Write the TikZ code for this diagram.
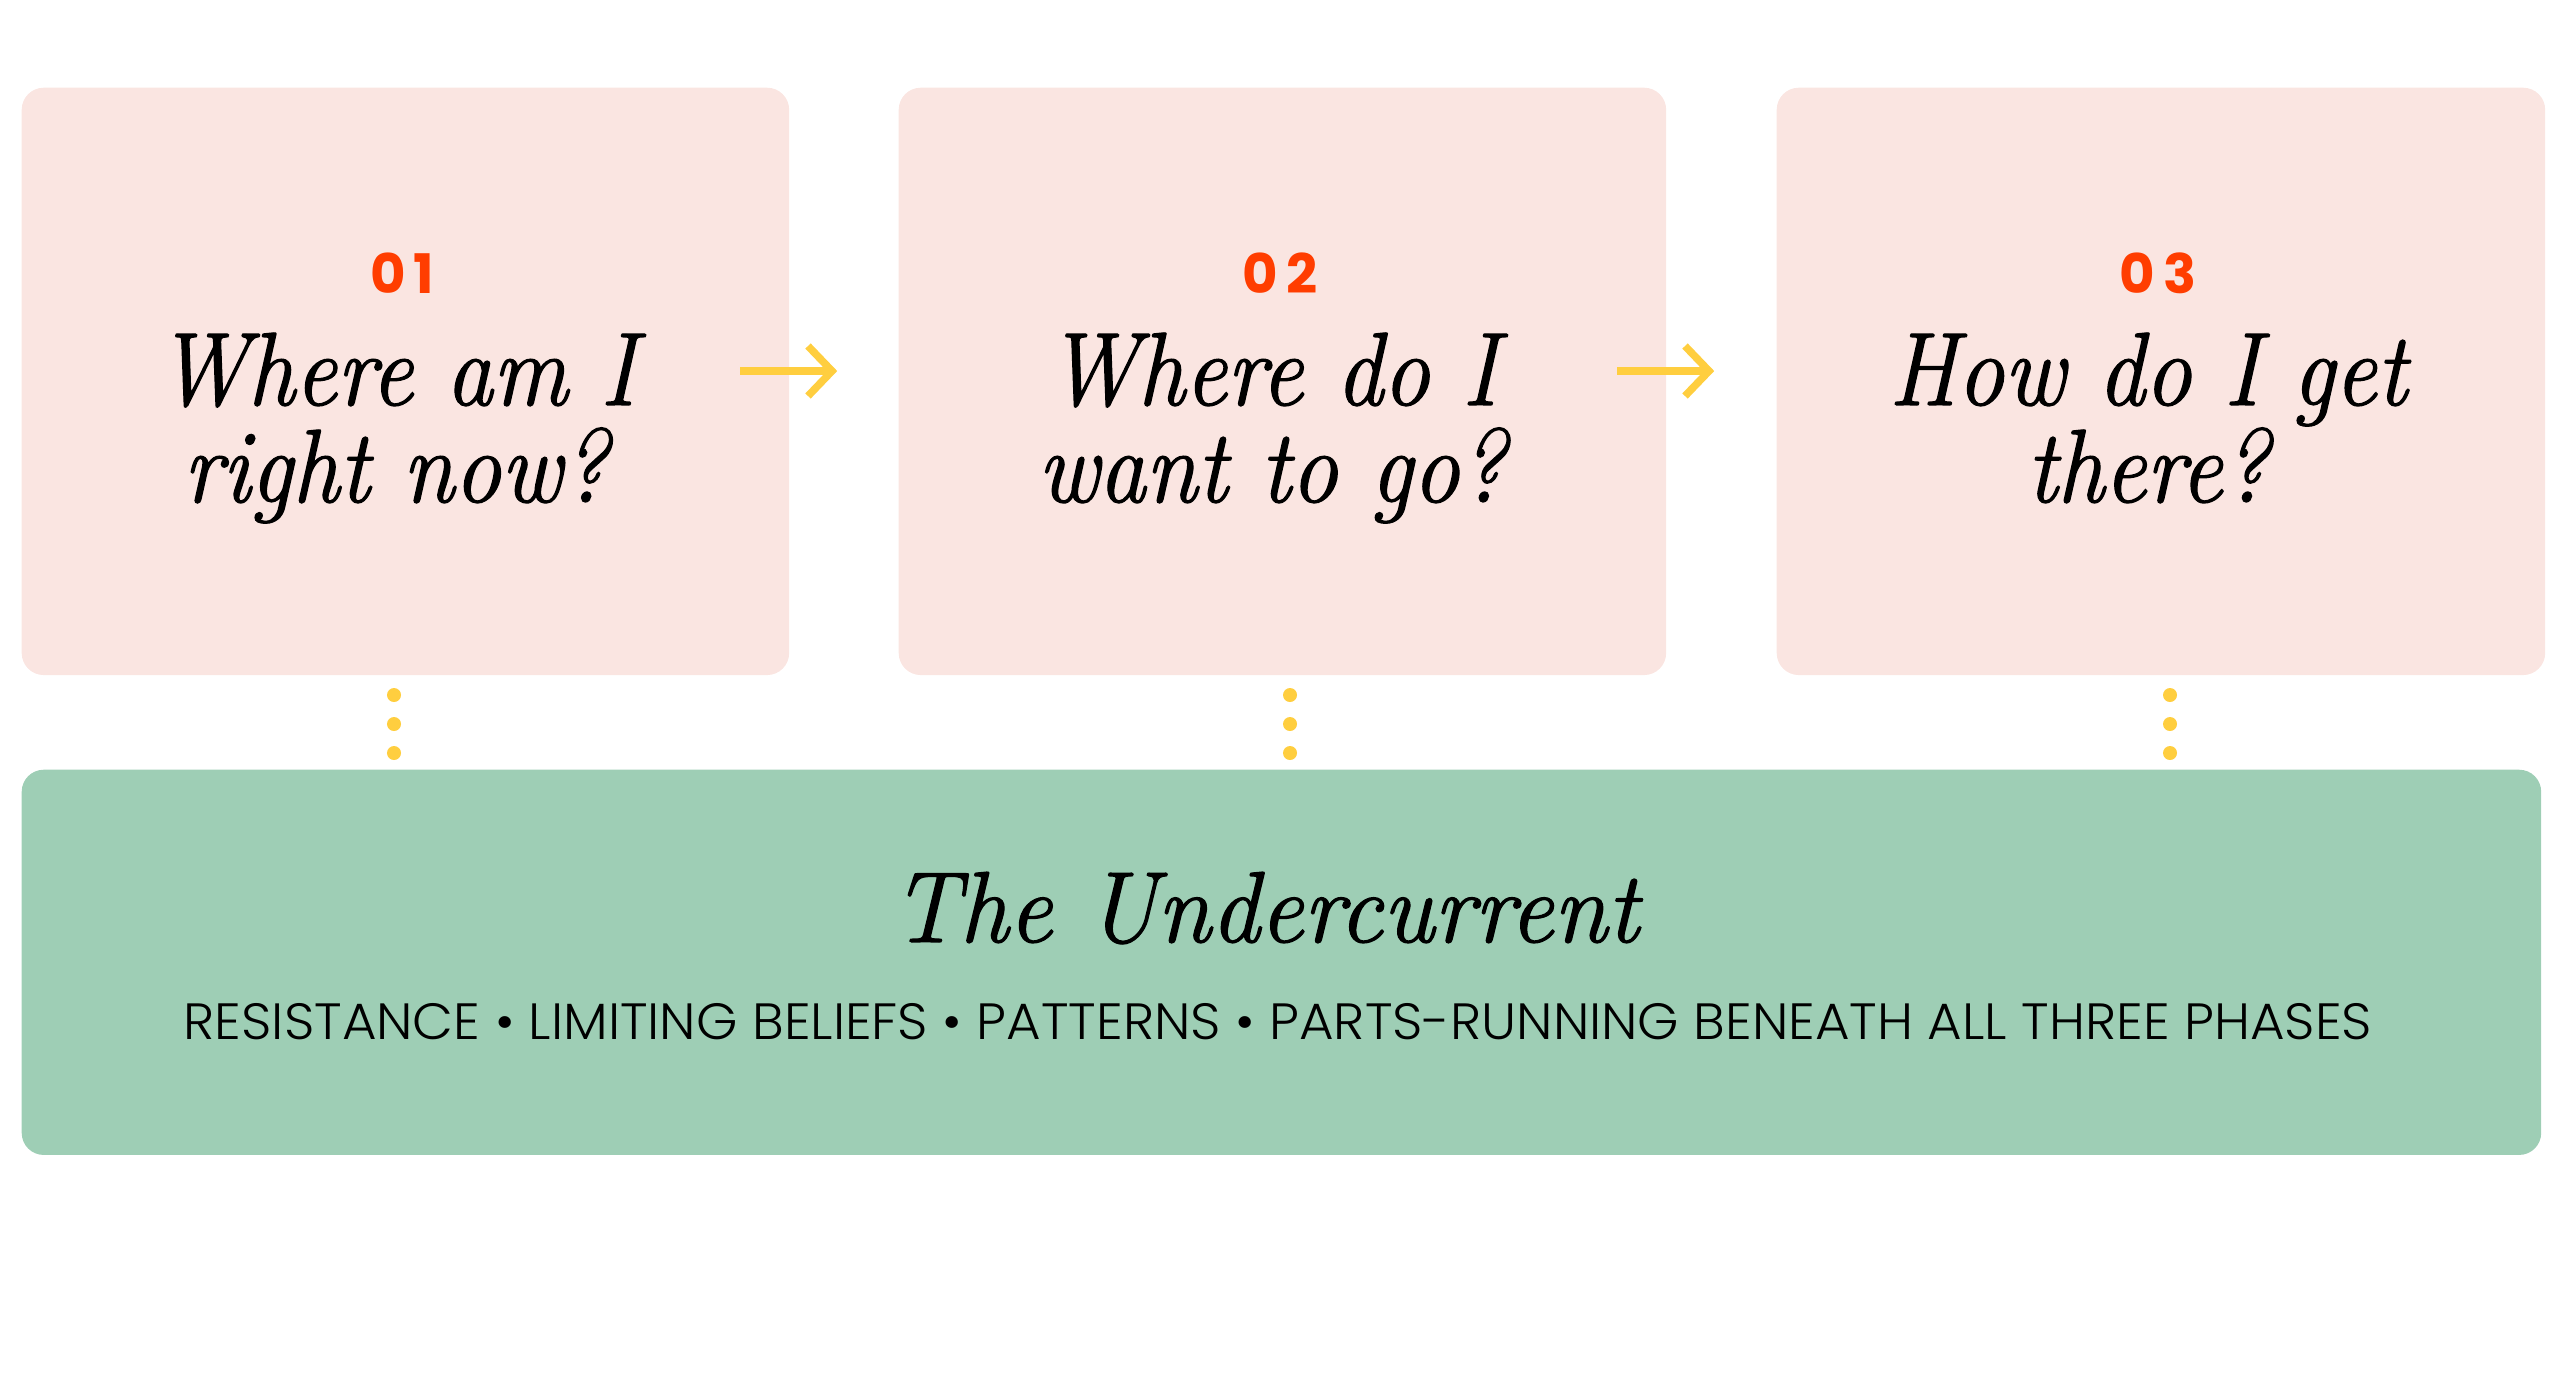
\documentclass[tikz,border=0pt]{standalone}
\usepackage{fontspec}
\newfontfamily\numfont[LetterSpace=14]{Poppins}
\IfFontExistsTF{Poppins Light}{\newfontfamily\capfont[FakeStretch=1.04]{Poppins Light}}{\newfontfamily\capfont[FakeStretch=1.04]{Poppins}}
\newfontfamily\ttlfont[FakeStretch=0.90, FakeBold=1.2]{Latin Modern Roman}
\newfontfamily\bigfont[FakeStretch=0.966, FakeBold=1.2]{Latin Modern Roman}
\definecolor{pinkbg}{HTML}{FAE5E1}
\definecolor{greenbg}{HTML}{9ECEB5}
\definecolor{sun}{HTML}{FFCE3F}
\definecolor{flame}{HTML}{FF3D00}
\tikzset{
  phasebox/.style={fill=pinkbg, draw=none, rounded corners=0.22cm, inner sep=0pt, anchor=north west, minimum width=7.67cm, minimum height=5.87cm},
  basebox/.style={fill=greenbg, draw=none, rounded corners=0.22cm, inner sep=0pt, anchor=north west, minimum width=25.18cm, minimum height=3.85cm},
  num/.style={anchor=base, inner sep=0pt, text=flame, font=\numfont\bfseries\fontsize{15.5}{16}\selectfont},
  ttl/.style={anchor=base, inner sep=0pt, text=black, font=\ttlfont\itshape\fontsize{29.6}{30}\selectfont},
  bigttl/.style={anchor=base, inner sep=0pt, text=black, font=\bigfont\itshape\fontsize{28.7}{30}\selectfont},
  sub/.style={anchor=base, inner sep=0pt, text=black, font=\capfont\fontsize{14.5}{16}\selectfont},
  flow/.style={draw=sun, line width=0.075cm, miter limit=10},
  dot/.style={fill=sun}
}
\begin{document}
\begin{tikzpicture}[x=0.01cm, y=-0.01cm]
\useasboundingbox (0,0) rectangle (2560,1396);
% boxes
\node[phasebox] (b1) at (21,87) {};
\node[phasebox] (b2) at (898,87) {};
\node[phasebox, minimum width=7.68cm] (b3) at (1776,87) {};
\node[basebox] (g) at (21,769) {};
% numbers
\node[num] (n1) at (402,293) {01};
\node[num] (n2) at (1280,293) {02};
\node[num] (n3) at (2158,293) {03};
% titles
\node[ttl] (t1a) at (396,405) {Where am I};
\node[ttl] (t1b) at (396,502) {right now?};
\node[ttl] (t2a) at (1272,405) {Where do I};
\node[ttl] (t2b) at (1272,502) {want to go?};
\node[ttl] (t3a) at (2148,405) {How do I get};
\node[ttl] (t3b) at (2148,502) {there?};
% arrows
\coordinate (a1s) at (740,371);
\coordinate (a1e) at (832,371);
\coordinate (a2s) at (1617,371);
\coordinate (a2e) at (1709,371);
\draw[flow] (a1s) -- (a1e);
\draw[flow] ([shift={(-24,-25)}]a1e) -- (a1e) -- ([shift={(-24,25)}]a1e);
\draw[flow] (a2s) -- (a2e);
\draw[flow] ([shift={(-24,-25)}]a2e) -- (a2e) -- ([shift={(-24,25)}]a2e);
% dots
\foreach \xx in {394,1290,2170}{
  \foreach \yy in {695,724,753}{
    \fill[dot] (\xx,\yy) circle (0.07cm);
  }
}
% base
\node[bigttl] (gt) at (1265,942) {The Undercurrent};
\node[sub] (gs) at (1278,1039) {RESISTANCE • LIMITING BELIEFS • PATTERNS • PARTS-RUNNING BENEATH ALL THREE PHASES};
\end{tikzpicture}
\end{document}
